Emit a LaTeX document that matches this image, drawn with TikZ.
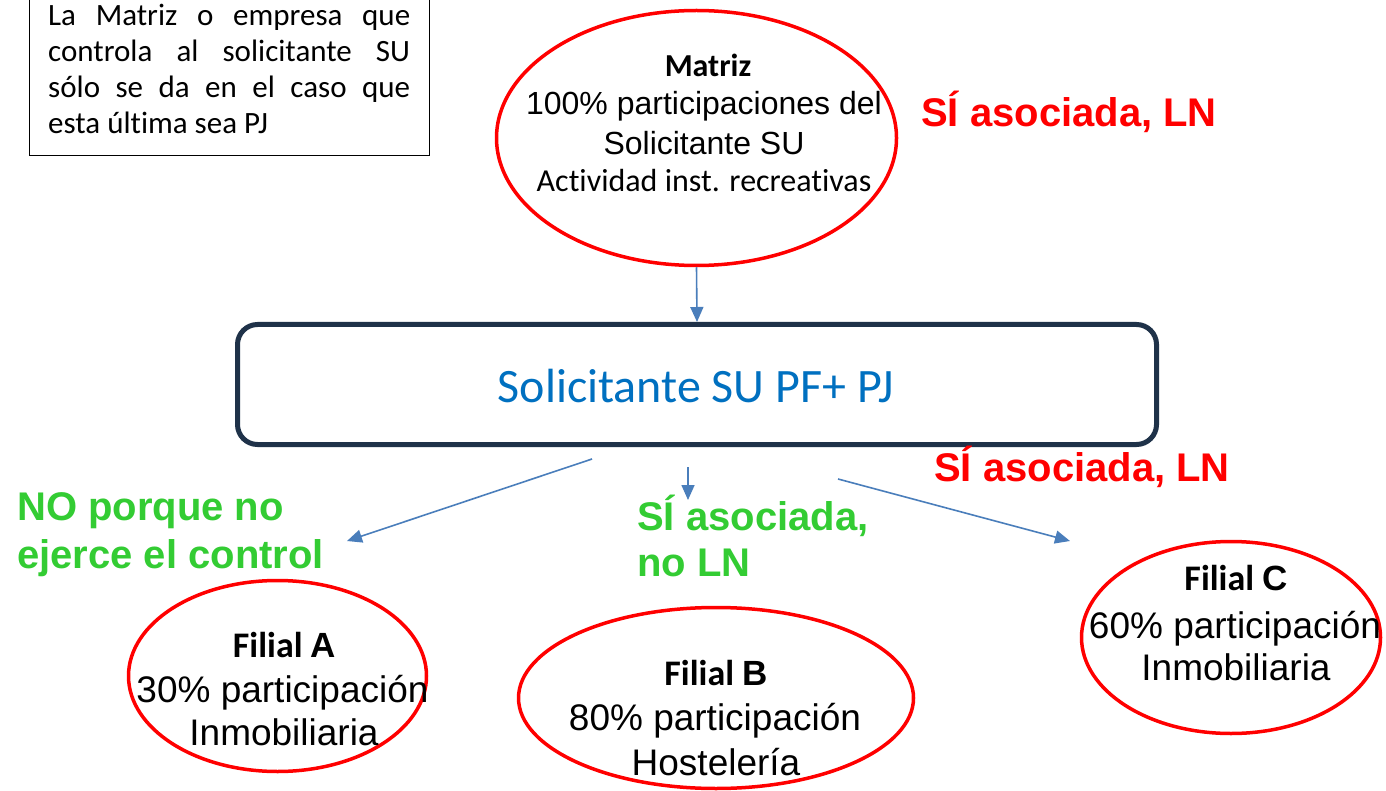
\documentclass[tikz,border=0pt]{standalone}
\usepackage{fontspec}
\setmainfont{Liberation Sans}
\newfontfamily\calfont[Ligatures={NoCommon}]{Carlito}
\newfontfamily\arifont{Liberation Sans}
\usetikzlibrary{arrows.meta,shapes.geometric}
\definecolor{ered}{HTML}{FF0000}
\definecolor{egreen}{HTML}{33CC33}
\definecolor{eblue}{HTML}{0070C0}
\definecolor{navy}{HTML}{1F3249}
\definecolor{arrblue}{HTML}{4A7EBB}
\begin{document}
\begin{tikzpicture}[x=1pt,y=-1pt,
  oval/.style={draw=ered, line width=3.5pt, ellipse, inner sep=0pt},
  arr/.style={draw=arrblue, line width=1.6pt, -{Triangle[length=15pt,width=13pt]}},
  lbl/.style={anchor=base west, inner sep=0pt, font=\arifont\bfseries\fontsize{40}{47}\selectfont},
  txt/.style={anchor=base, inner sep=0pt},
  ari/.style={font=\arifont\fontsize{37}{42}\selectfont},
  arim/.style={font=\arifont\fontsize{32}{38}\selectfont},
  calm/.style={font=\calfont\fontsize{32}{38}\selectfont},
  notetxt/.style={anchor=base west, inner sep=0pt, font=\calfont\fontsize{31}{36}\selectfont}
]
\clip (0,0) rectangle (1386,791);
\fill[white] (0,0) rectangle (1386,791);

% note box
\node[draw=black, line width=1.5pt, minimum width=400pt, minimum height=176pt, inner sep=0pt, outer sep=0pt, anchor=south west] (note) at (29.5,155.5) {};
\node[notetxt] (n1) at (48,26) {\makebox[362pt][s]{La Matriz o empresa que}};
\node[notetxt] (n2) at (48,62) {\makebox[362pt][s]{controla al solicitante SU}};
\node[notetxt] (n3) at (48,98) {\makebox[362pt][s]{sólo se da en el caso que}};
\node[notetxt] (n4) at (48,134) {esta última sea PJ};

% Matriz
\node[oval, minimum width=400pt, minimum height=255pt] (matriz) at (696.5,138) {};
\node[txt, font=\calfont\bfseries\fontsize{32}{38}\selectfont] (mt1) at (708,77) {Matriz};
\node[txt, arim] (mt2) at (704,115) {100\% participaciones del};
\node[txt, arim] (mt3) at (704,155) {Solicitante SU};
\node[txt, calm] (mt4) at (704,192) {Actividad inst. recreativas};

\node[lbl, text=ered] (sr1) at (921,127) {SÍ asociada, LN};

% Solicitante box
\node[draw=navy, line width=5pt, rounded corners=20pt, minimum width=919pt, minimum height=120pt, inner sep=0pt] (sol) at (697,384.5) {};
\node[txt, text=eblue, font=\calfont\fontsize{48}{54}\selectfont] (soltxt) at (696,402) {Solicitante SU PF+ PJ};

\draw[arr] (matriz.south) -- (sol.north);

\node[lbl, text=ered] (sr2) at (934,481) {SÍ asociada, LN};
\node[lbl, text=egreen] (g1) at (17,520) {NO porque no};
\node[lbl, text=egreen] (g1b) at (17,568) {ejerce el control};
\node[lbl, text=egreen] (g2) at (637,530) {SÍ asociada,};
\node[lbl, text=egreen] (g2b) at (637,576) {no LN};

% lower arrows
\coordinate (la1) at (592,459);
\coordinate (la2) at (347,541);
\coordinate (mb1) at (688,467);
\coordinate (mb2) at (688,500);
\coordinate (rc1) at (838,479);
\coordinate (rc2) at (1070,541);
\draw[arr] (la1) -- (la2);
\draw[arr] (mb1) -- (mb2);
\draw[arr] (rc1) -- (rc2);

% Filial A
\node[oval, minimum width=298pt, minimum height=191pt] (fa) at (277.5,676) {};
\node[txt] (fa1) at (284.5,657) {{\calfont\bfseries\fontsize{36}{40}\selectfont Filial }{\arifont\bfseries\fontsize{35}{40}\selectfont A}};
\node[txt, ari] (fa2) at (282.5,702) {30\% participación};
\node[txt, ari] (fa3) at (284,745) {Inmobiliaria};

% Filial B
\node[oval, minimum width=395pt, minimum height=181pt] (fb) at (716,698) {};
\node[txt] (fb1) at (716,685) {{\calfont\bfseries\fontsize{36}{40}\selectfont Filial }{\arifont\bfseries\fontsize{35}{40}\selectfont B}};
\node[txt, ari] (fb2) at (715,730) {80\% participación};
\node[txt, ari] (fb3) at (716,775) {Hostelería};

% Filial C
\node[oval, minimum width=299pt, minimum height=192pt] (fc) at (1231,637.5) {};
\node[txt] (fc1) at (1236,590) {{\calfont\bfseries\fontsize{36}{40}\selectfont Filial }{\arifont\bfseries\fontsize{35}{40}\selectfont C}};
\node[txt, ari] (fc2) at (1235,638) {60\% participación};
\node[txt, ari] (fc3) at (1236,680) {Inmobiliaria};
\end{tikzpicture}
\end{document}
